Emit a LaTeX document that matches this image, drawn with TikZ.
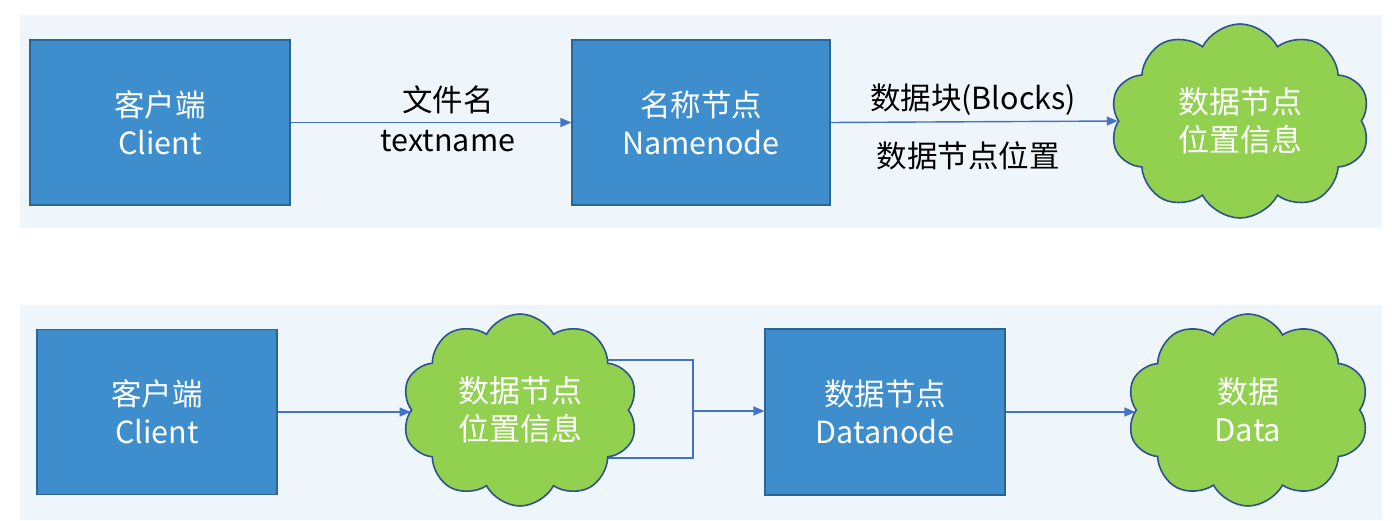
\documentclass[tikz,border=0pt]{standalone}
\usepackage{fontspec}
\setmainfont{Noto Sans CJK SC}
\usetikzlibrary{shapes.symbols,arrows.meta,backgrounds}
\definecolor{boxblue}{RGB}{62,142,206}
\definecolor{boxedge}{RGB}{44,100,150}
\definecolor{cloudgreen}{RGB}{146,208,80}
\definecolor{cloudedge}{RGB}{47,82,143}
\definecolor{arrowblue}{RGB}{68,114,196}
\definecolor{band}{RGB}{239,246,251}
\tikzset{
  bluebox/.style={draw=boxedge, line width=1.2pt, fill=boxblue, text=white, align=center, inner sep=0pt, font=\fontsize{30.5}{38}\selectfont},
  greencloud/.style={cloud, cloud puffs=10, cloud puff arc=125, cloud ignores aspect, draw=cloudedge, line width=1.6pt, fill=cloudgreen, text=white, align=center, inner sep=0pt, font=\fontsize{31}{38}\selectfont},
  conn/.style={draw=arrowblue, line width=1.4pt},
  arr/.style={conn, -{Triangle[length=11pt,width=9pt]}},
  lbl/.style={text=black, align=center, inner sep=0pt, font=\fontsize{30.5}{36}\selectfont},
  bandbox/.style={fill=band, draw=none}
}
\begin{document}
\begin{tikzpicture}[x=1pt,y=-1pt]
\useasboundingbox (0,0) rectangle (1392,521);
% top row
\node[bluebox, minimum width=260pt, minimum height=165pt] (client1) at (160,122.5) {客户端\\Client};
\node[bluebox, minimum width=258pt, minimum height=165pt] (namenode) at (701,122.5) {名称节点\\Namenode};
\node[greencloud, minimum width=260pt, minimum height=194pt] (cloud1) at (1240,121) {数据节点\\位置信息};
\node[lbl] (l1a) at (448,100) {文件名};
\node[lbl] (l1b) at (448,141) {textname};
\node[lbl] (l2a) at (973,100) {数据块(Blocks)};
\node[lbl] (l2b) at (968,156) {数据节点位置};
\draw[arr] (client1.east) -- (namenode.west);
\draw[arr] (namenode.east) -- (cloud1.west);
% bottom row
\node[bluebox, minimum width=240pt, minimum height=165pt] (client2) at (157,412) {客户端\\Client};
\node[greencloud, minimum width=236pt, minimum height=192pt] (cloud2) at (520,410) {数据节点\\位置信息};
\node[bluebox, minimum width=240pt, minimum height=166pt] (datanode) at (885,412) {数据节点\\Datanode};
\node[greencloud, minimum width=242pt, minimum height=192pt] (cloud3) at (1248,410) {数据\\Data};
\coordinate (j) at (693,411);
\draw[arr] (client2.east) -- (client2.east -| cloud2.west);
\draw[arr] (j) -- (j -| datanode.west);
\draw[arr] (datanode.east) -- (datanode.east -| cloud3.west);
\begin{pgfonlayer}{background}
\fill[white] (0,0) rectangle (1392,521);
\node[bandbox, minimum width=1362pt, minimum height=213pt, anchor=north west] (band1) at (20,15) {};
\node[bandbox, minimum width=1362pt, minimum height=215pt, anchor=north west] (band2) at (20,305) {};
\draw[conn] (cloud2.center |- 0,360) -| (j) |- (cloud2.center |- 0,458);
\end{pgfonlayer}
\end{tikzpicture}
\end{document}
